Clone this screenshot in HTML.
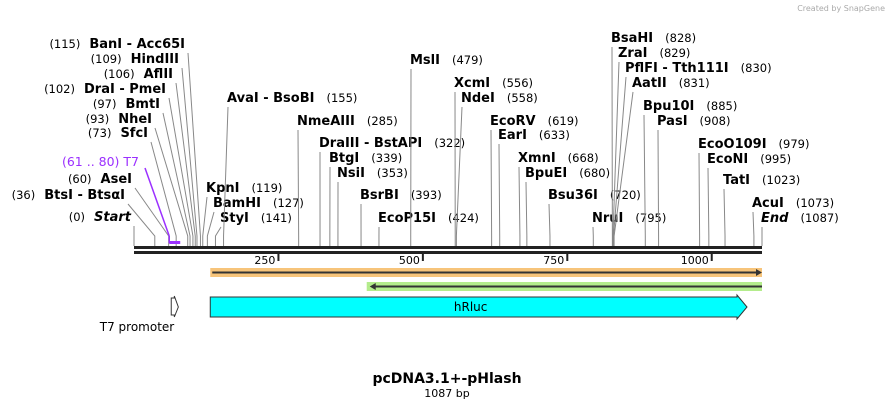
<!DOCTYPE html>
<html><head><meta charset="utf-8"><style>
html,body{margin:0;padding:0;background:#fff;width:895px;height:409px;overflow:hidden}
svg{display:block}
text{font-family:"DejaVu Sans","Liberation Sans",sans-serif}
.n{font-weight:bold;font-size:13px;fill:#000}
.p{font-size:11.5px;fill:#000}
</style></head><body>
<svg id="map" width="895" height="409" viewBox="0 0 895 409">
<text x="885" y="11" text-anchor="end" font-size="8" fill="#aaa">Created by SnapGene</text>
<text x="447" y="383" text-anchor="middle" font-weight="bold" font-size="14">pcDNA3.1+-pHlash</text>
<text x="447" y="397" text-anchor="middle" font-size="11">1087 bp</text>
</svg>
<script>
const totalBp = 1087;
const siteNames = ["Start","BtsI  - BtsαI","AseI","SfcI","NheI","BmtI","DraI  - PmeI","AflII","HindIII","BanI  - Acc65I","KpnI","BamHI","StyI","AvaI  - BsoBI","NmeAIII","DraIII  - BstAPI","BtgI","NsiI","BsrBI","EcoP15I","MslI","XcmI","NdeI","EcoRV","EarI","XmnI","BpuEI","Bsu36I","NruI","BsaHI","ZraI","PflFI  - Tth111I","AatII","Bpu10I","PasI","EcoO109I","EcoNI","TatI","AcuI","End"];
const sitePositions = [0,36,60,73,93,97,102,106,109,115,119,127,141,155,285,322,339,353,393,424,479,556,558,619,633,668,680,720,795,828,829,830,831,885,908,979,995,1023,1073,1087];
const tickValues = [250,500,750,1000];
const featureNames = ["T7","hRluc","T7 promoter"];
const featureStarts = [61,132,61];
const featureEnds = [80,1087,75];
const orfForward = [132,1087];
const orfReverse = [408,1087];

const layout = [
 ["L",131,221],["L",125,199],["L",132,183],["L",148,137],["L",152,123],["L",160,108],["L",166,93],["L",173,78],["L",179,63],["L",185,48],
 ["R",206,192],["R",213,207],["R",220,222],["R",227,102],["R",297,125],["R",319,147],["R",329,162],["R",337,177],["R",360,199],["R",378,222],
 ["R",410,64],["R",454,87],["R",461,102],["R",490,125],["R",498,139],["R",518,162],["R",525,177],["R",548,199],["R",592,222],
 ["R",611,42],["R",618,57],["R",625,72],["R",632,87],["R",643,110],["R",657,125],["R",698,148],["R",707,163],["R",723,184],["R",752,207],["R",761,222]
];
const X0 = 134, X1 = 762, BARY = 246;
const xs = bp => X0 + bp * (X1 - X0) / totalBp;
const svg = document.getElementById('map');
const NS = 'http://www.w3.org/2000/svg';
function mk(tag, attrs, parent) {
  const e = document.createElementNS(NS, tag);
  for (const k in attrs) e.setAttribute(k, attrs[k]);
  (parent || svg).appendChild(e);
  return e;
}
const bb = mk('g', {});


mk('rect', {x: X0, y: BARY, width: X1 - X0, height: 3, fill: '#222'}, bb);
mk('rect', {x: X0, y: BARY + 5, width: X1 - X0, height: 3, fill: '#222'}, bb);
tickValues.forEach(v => {
  const g = mk('g', {});
  
  
  const x = xs(v);
  mk('rect', {x: x - 1, y: BARY + 8, width: 2, height: 7, fill: '#222'}, g);
  const t = mk('text', {x: x - 3, y: BARY + 18, 'text-anchor': 'end', 'font-size': 11}, g);
  t.textContent = v;
});
siteNames.forEach((nm, i) => {
  const [side, lx, ly] = layout[i];
  const sx = xs(sitePositions[i]);
  const g = mk('g', {});
  
  
  const ax = side === 'L' ? lx + 3 : lx + 1;
  const ay = ly + 5;
  const by = Math.max(ay, BARY - 10);
  mk('polyline', {points: `${ax},${ay} ${sx},${by} ${sx},${BARY}`, fill: 'none', stroke: '#888', 'stroke-width': 1}, g);
  const italic = (nm === 'Start' || nm === 'End');
  const t = mk('text', {x: lx, y: ly, 'text-anchor': side === 'L' ? 'end' : 'start', 'xml:space': 'preserve'}, g);
  const num = '(' + sitePositions[i] + ')';
  if (side === 'L') {
    const a = mk('tspan', {class: 'p'}, t); a.textContent = num;
    const b = mk('tspan', {class: 'n', dx: 9, 'font-style': italic ? 'italic' : 'normal'}, t); b.textContent = nm;
  } else {
    const b = mk('tspan', {class: 'n', 'font-style': italic ? 'italic' : 'normal'}, t); b.textContent = nm;
    const a = mk('tspan', {class: 'p', dx: 12}, t); a.textContent = num;
  }
});
{
  const g = mk('g', {});
  
  
  const a = xs(featureStarts[0]), b = xs(featureEnds[0]);
  mk('line', {x1: 145, y1: 168, x2: a, y2: 236, stroke: '#9b30ff', 'stroke-width': 1.5}, g);
  mk('line', {x1: a, y1: 236, x2: a, y2: 243, stroke: '#9b30ff', 'stroke-width': 1.5}, g);
  mk('rect', {x: a, y: 241, width: b - a, height: 3, fill: '#9b30ff'}, g);
  const t = mk('text', {x: 139, y: 166, 'text-anchor': 'end', 'font-size': 12.5, fill: '#9b30ff', 'xml:space': 'preserve'}, g);
  t.textContent = '(' + featureStarts[0] + ' .. ' + featureEnds[0] + ')  ' + featureNames[0];
}
{
  const g = mk('g', {});
  
  
  const a = xs(orfForward[0]), b = xs(orfForward[1]);
  mk('rect', {x: a, y: 268, width: b - a, height: 9, fill: '#f7c47a'}, g);
  mk('line', {x1: a + 2, y1: 272.5, x2: b - 3, y2: 272.5, stroke: '#333', 'stroke-width': 2}, g);
  mk('polygon', {points: `${b - 6},269 ${b},272.5 ${b - 6},276`, fill: '#333'}, g);
}
{
  const g = mk('g', {});
  
  
  const a = xs(orfReverse[0]), b = xs(orfReverse[1]);
  mk('rect', {x: a - 3, y: 282, width: b - a + 3, height: 9, fill: '#b4ec8c'}, g);
  mk('line', {x1: a + 3, y1: 286.5, x2: b, y2: 286.5, stroke: '#333', 'stroke-width': 2}, g);
  mk('polygon', {points: `${a + 6},283 ${a},286.5 ${a + 6},290`, fill: '#333'}, g);
}
{
  const g = mk('g', {});
  
  
  const a = xs(featureStarts[1]), b = xs(featureEnds[1]) - 15;
  mk('polygon', {points: `${a},297 ${b - 10},297 ${b - 10},295 ${b},307 ${b - 10},319 ${b - 10},317 ${a},317`, fill: '#00ffff', stroke: '#333', 'stroke-width': 1}, g);
  const t = mk('text', {x: (a + b) / 2 - 8, y: 311, 'text-anchor': 'middle', 'font-size': 12}, g);
  t.textContent = featureNames[1];
}
{
  const g = mk('g', {});
  
  
  const a = xs(featureStarts[2]) + 2, b = xs(featureEnds[2]);
  mk('polygon', {points: `${a},298 ${b - 3},298 ${b - 3},296 ${b + 1},307 ${b - 3},317 ${b - 3},315 ${a},315`, fill: '#fff', stroke: '#333', 'stroke-width': 1}, g);
  const t = mk('text', {x: 137, y: 331, 'text-anchor': 'middle', 'font-size': 12}, g);
  t.textContent = featureNames[2];
}
</script>
</body></html>
